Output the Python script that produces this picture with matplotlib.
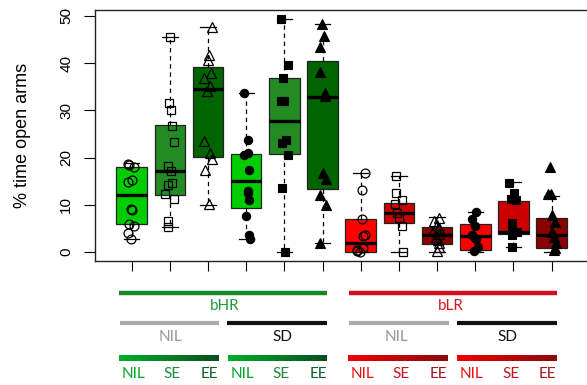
import numpy as np
import matplotlib.pyplot as plt
from matplotlib.colors import LinearSegmentedColormap

# box summaries: low whisker, q1, median, q3, high whisker
whislo = [2.7, 5.2, 10.0, 2.7, 0.1, 1.8, 0.0, 0.0, 0.0, 0.0, 1.1, 0.0]
q1     = [5.9, 12.1, 20.2, 9.3, 20.7, 13.3, 0.1, 6.2, 1.6, 0.4, 3.8, 0.8]
med    = [12.0, 17.1, 34.5, 15.1, 27.8, 32.9, 2.0, 8.2, 3.7, 3.4, 4.3, 3.6]
q3     = [17.9, 26.8, 39.1, 20.8, 36.8, 40.4, 6.9, 10.4, 5.2, 5.9, 10.9, 7.3]
whishi = [18.8, 45.5, 47.6, 33.6, 49.3, 48.3, 16.7, 16.2, 7.5, 8.4, 14.8, 11.9]

# individual animals
points = [
    [18.6, 18.4, 18.0, 15.2, 14.9, 9.1, 8.8, 6.0, 5.5, 4.0, 2.7],
    [45.5, 31.5, 30.0, 26.6, 23.2, 18.3, 17.1, 14.7, 14.1, 12.2, 11.2, 6.6, 5.3],
    [47.6, 41.7, 40.7, 38.0, 36.9, 35.2, 34.2, 23.6, 21.0, 19.6, 17.4, 10.2],
    [33.6, 23.7, 20.9, 20.5, 17.4, 13.0, 12.4, 11.0, 7.6, 3.7, 2.7],
    [49.3, 39.6, 36.9, 32.0, 31.9, 23.7, 23.0, 20.5, 13.6, 0.1],
    [48.3, 45.8, 43.5, 38.2, 33.6, 33.0, 16.7, 15.4, 12.1, 10.0, 2.0],
    [16.7, 13.1, 7.0, 3.5, 3.3, 0.8, 0.4, 0.1, 0.2],
    [16.2, 12.4, 11.0, 10.1, 8.2, 7.1, 5.4, 0.1],
    [7.3, 6.5, 5.8, 5.0, 4.5, 3.8, 3.2, 2.5, 1.8, 1.0, 0.3],
    [8.4, 6.9, 5.5, 3.6, 2.9, 2.7, 1.0, 0.3],
    [14.7, 12.4, 11.2, 11.0, 6.1, 5.0, 4.3, 3.6, 1.1],
    [18.1, 12.2, 12.2, 7.8, 6.4, 4.3, 3.2, 2.0, 0.8, 0.4],
]

box_cols = ["#00CD00", "#228B22", "#006400"] * 2 + ["#FF0000", "#CD0000", "#8B0000"] * 2
markers = ["o", "s", "^"] * 4
filled = ([False] * 3 + [True] * 3) * 2

fig = plt.figure(figsize=(5.87, 3.85), dpi=100)
ax = fig.add_axes([0.1613, 0.3221, 0.8421, 0.652])

pos = np.arange(1, 13)
stats = []
for i in range(12):
    stats.append(dict(whislo=whislo[i], q1=q1[i], med=med[i], q3=q3[i], whishi=whishi[i]))

bp = ax.bxp(stats, positions=pos, widths=0.8, capwidths=0.4, patch_artist=True,
            showfliers=False,
            boxprops=dict(edgecolor="#222222", linewidth=0.9),
            whiskerprops=dict(color="black", linewidth=0.9, linestyle=(0, (3.5, 3))),
            capprops=dict(color="black", linewidth=0.9),
            medianprops=dict(color="black", linewidth=2.4, solid_capstyle="butt"))
for patch, c in zip(bp["boxes"], box_cols):
    patch.set_facecolor(c)

rng = np.random.default_rng(3)
for i in range(12):
    y = np.array(points[i])
    x = pos[i] + rng.uniform(-0.12, 0.12, len(y))
    m = markers[i]
    ms = {"o": 6.4, "s": 5.9, "^": 6.8}[m]
    if filled[i]:
        ms = {"o": 6.0, "s": 5.8, "^": 6.6}[m]
        ax.plot(x, y, m, ls="none", ms=ms, mfc="black", mec="black", mew=0.8, zorder=4)
    else:
        ax.plot(x, y, m, ls="none", ms=ms, mfc="none", mec="black", mew=0.9, zorder=4)

ax.set_xlim(0.03, 12.98)
ax.set_ylim(-1.91, 51.27)
ax.set_xticks(pos)
ax.set_xticklabels([])
ax.set_yticks([0, 10, 20, 30, 40, 50])
ax.set_yticklabels(["0", "10", "20", "30", "40", "50"], rotation=90, va="center",
                   fontsize=11, family="Liberation Sans")
ax.tick_params(axis="y", length=8, width=0.8, pad=7.5)
ax.tick_params(axis="x", length=7, width=0.8)
for s in ax.spines.values():
    s.set_color("#222222")
    s.set_linewidth(1.0)
ax.set_ylabel("% time open arms", fontsize=13, family="Liberation Sans")
ax.yaxis.set_label_coords(-0.129, 0.5)

# group legend drawn below the plot, in pixel space
lg = fig.add_axes([0, 0, 1, 1])
lg.set_zorder(-1)
lg.axis("off")

font = ["Lato", "DejaVu Sans"]
bars = [  # x0, x1, y, colour, width
    (119, 327, 292.8, "#15892a", 3.2),
    (349, 557, 292.8, "#d5101c", 3.2),
    (120, 219, 323.3, "#aaaaaa", 3.0),
    (227, 327, 323.3, "#111111", 3.0),
    (349, 449, 323.3, "#aaaaaa", 3.0),
    (457, 557, 323.3, "#111111", 3.0),
]
for x0, x1, y, c, w in bars:
    lg.plot([x0, x1], [y, y], color=c, lw=w, solid_capstyle="butt")

green_grad = LinearSegmentedColormap.from_list("g", ["#00b02a", "#0b4e1e"])
red_grad = LinearSegmentedColormap.from_list("r", ["#f00000", "#8a0a0e"])
grads = [(119, 219, green_grad), (228, 327, green_grad),
         (348, 448, red_grad), (457, 557, red_grad)]
ramp = np.linspace(0, 1, 200).reshape(1, -1)
for x0, x1, cm in grads:
    lg.imshow(ramp, cmap=cm, aspect="auto", extent=[x0, x1, 361, 355], interpolation="bilinear")

labels = [  # text, x, y, colour
    ("bHR", 224.5, 306, "#1f9a3c"),
    ("bLR", 451, 306, "#dc1420"),
    ("NIL", 170.5, 337, "#999999"),
    ("SD", 282, 337, "#111111"),
    ("NIL", 396, 337, "#999999"),
    ("SD", 507.5, 337, "#111111"),
]
for t, x, y, c in labels:
    lg.text(x, y, t, color=c, fontsize=11, family=font, ha="center", va="center")

sub_x = [133.5, 171.7, 209, 242, 281.5, 318.3, 363, 401.5, 438.7, 471.5, 511, 547.5]
sub_txt = ["NIL", "SE", "EE"] * 4
sub_col = ["#00aa28", "#1f8c38", "#0f5f28"] * 2 + ["#ee1111", "#cc1020", "#a01820"] * 2
for t, x, c in zip(sub_txt, sub_x, sub_col):
    lg.text(x, 374, t, color=c, fontsize=11, family=font, ha="center", va="center")

lg.set_xlim(0, 587)
lg.set_ylim(385, 0)

fig.savefig("out.png", dpi=100)
